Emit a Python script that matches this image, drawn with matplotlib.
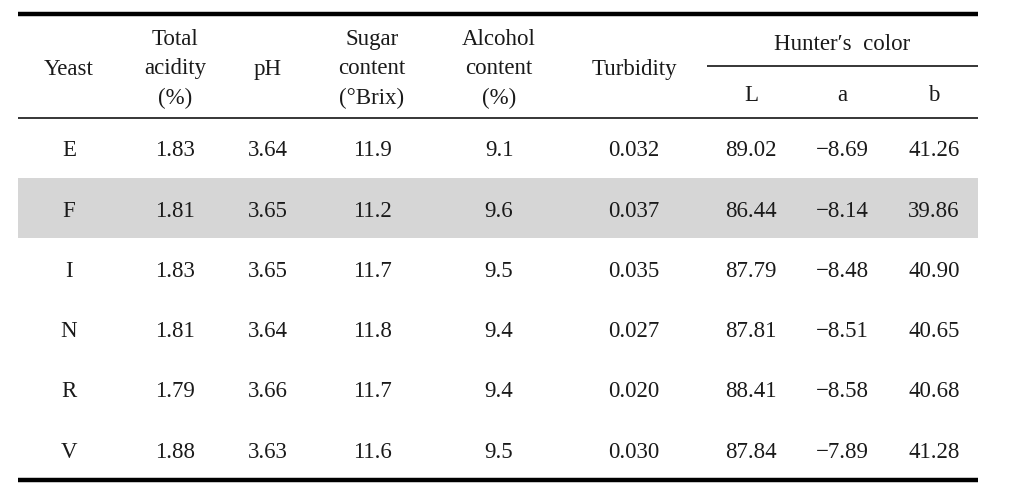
import matplotlib
matplotlib.use("Agg")
import matplotlib.pyplot as plt

plt.rcParams['font.family'] = ['Liberation Serif', 'DejaVu Serif']

# 表格数据
yeast = ['E', 'F', 'I', 'N', 'R', 'V']
total_acidity = ['1.83', '1.81', '1.83', '1.81', '1.79', '1.88']
ph = ['3.64', '3.65', '3.65', '3.64', '3.66', '3.63']
sugar = ['11.9', '11.2', '11.7', '11.8', '11.7', '11.6']
alcohol = ['9.1', '9.6', '9.5', '9.4', '9.4', '9.5']
turbidity = ['0.032', '0.037', '0.035', '0.027', '0.020', '0.030']
hunter_L = ['89.02', '86.44', '87.79', '87.81', '88.41', '87.84']
hunter_a = ['\u22128.69', '\u22128.14', '\u22128.48', '\u22128.51', '\u22128.58', '\u22127.89']
hunter_b = ['41.26', '39.86', '40.90', '40.65', '40.68', '41.28']

headers = ['Yeast', 'Total\nacidity\n(%)', 'pH', 'Sugar\ncontent\n(\u00b0Brix)',
           'Alcohol\ncontent\n(%)', 'Turbidity']
sub_headers = ['L', 'a', 'b']

columns = [yeast, total_acidity, ph, sugar, alcohol, turbidity, hunter_L, hunter_a, hunter_b]

# 像素坐标布局
col_x = [69, 175, 268, 372, 499, 634, 751, 842, 934]
row_y = [148, 209, 269, 329, 389, 450]
left, right = 18, 978

fig = plt.figure(figsize=(10.14, 4.97), dpi=100)
ax = fig.add_axes([0, 0, 1, 1])
ax.set_xlim(0, 1014)
ax.set_ylim(497, 0)
ax.axis('off')

# 灰色行
ax.fill_between([left, right], 178, 238, color='#d6d6d6', lw=0, zorder=0)

# 横线
ax.plot([left, right], [14, 14], color='black', lw=3.2, solid_capstyle='butt')
ax.plot([left, right], [118, 118], color='black', lw=1.1, solid_capstyle='butt')
ax.plot([707, right], [66, 66], color='black', lw=1.1, solid_capstyle='butt')
ax.plot([left, right], [480, 480], color='black', lw=3.2, solid_capstyle='butt')

txt = dict(ha='center', va='center_baseline', fontsize=16.5, color='#1a1a1a')

for i, h in enumerate(headers):
    if '\n' in h:
        ax.text(col_x[i], 62, h, linespacing=1.55, **txt)
    else:
        ax.text(col_x[i], 67, h, **txt)
ax.text((col_x[6] + col_x[8]) / 2, 42, 'Hunter\u2032s  color', **txt)
for i, h in enumerate(sub_headers):
    ax.text(col_x[6 + i], 93, h, **txt)

for c, col in enumerate(columns):
    for r, val in enumerate(col):
        ax.text(col_x[c], row_y[r], val, **txt)

fig.savefig('out.png', dpi=100)
